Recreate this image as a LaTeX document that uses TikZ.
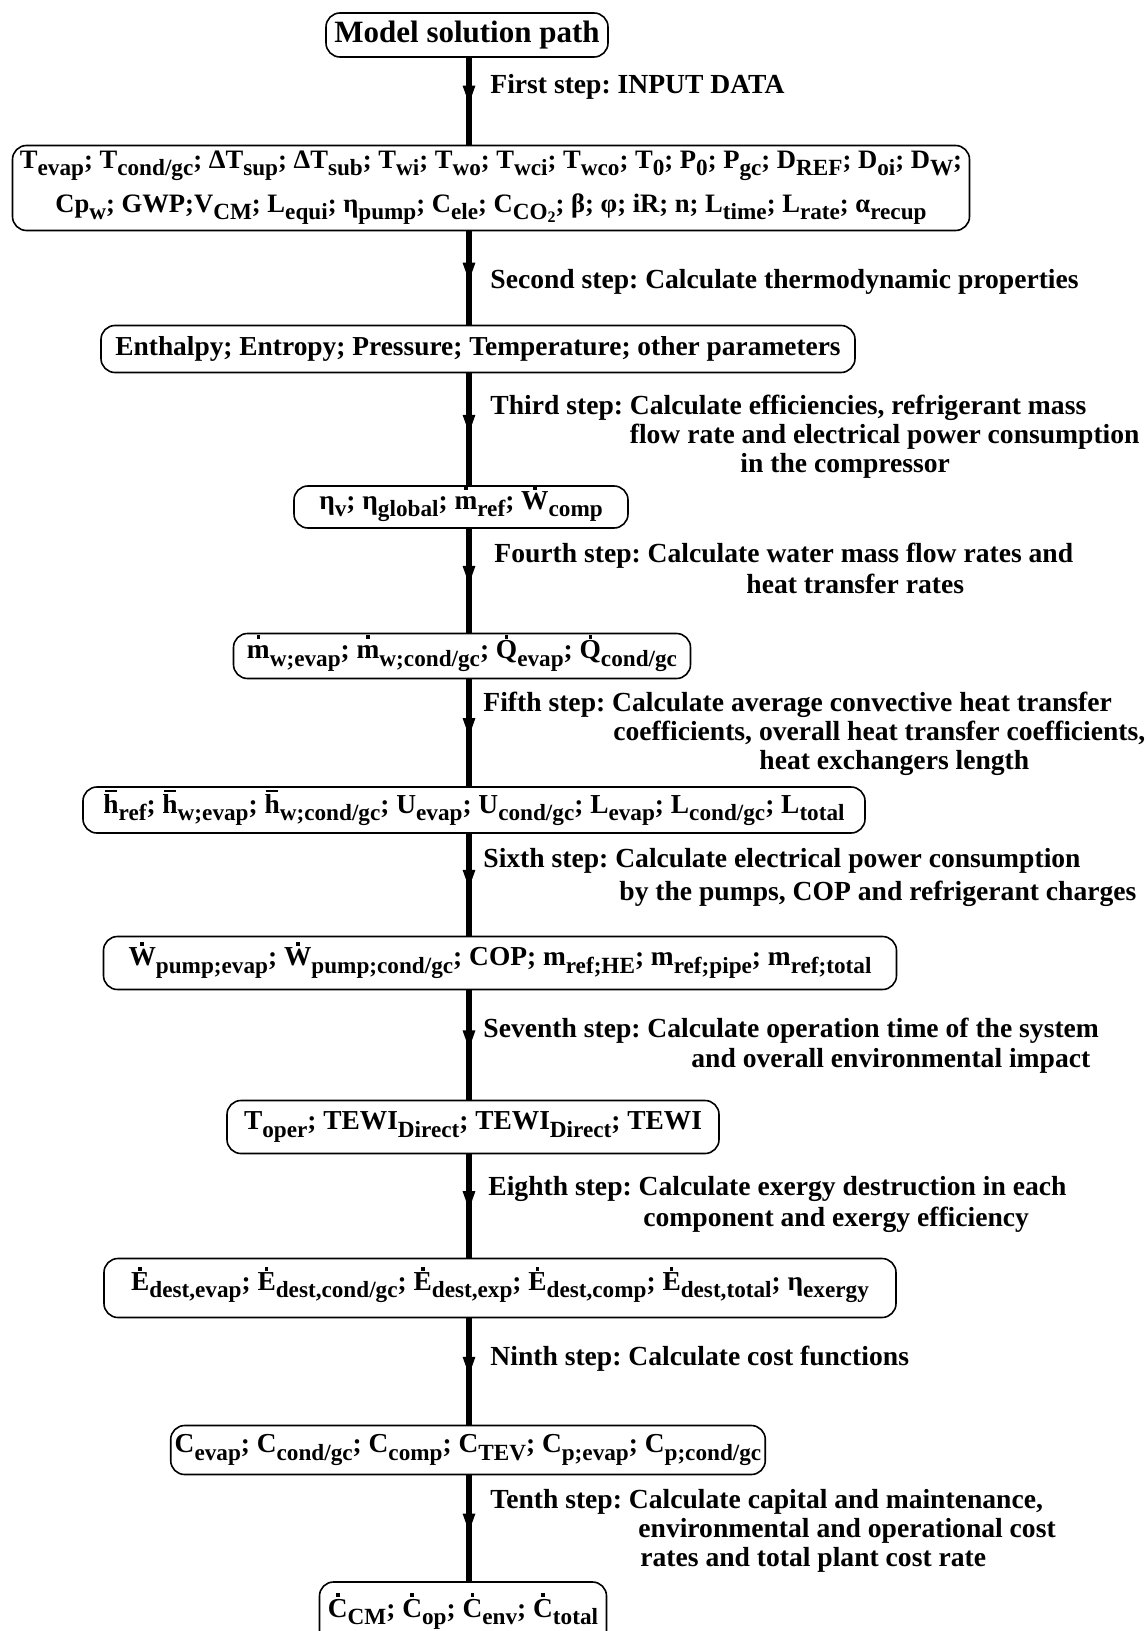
\documentclass[tikz,border=0pt]{standalone}
\usepackage{fontspec}
\setmainfont{Liberation Serif}
\usetikzlibrary{arrows.meta,decorations.markings}

\newcommand{\low}[1]{\raisebox{-0.26em}{\fontsize{11.6}{12}\selectfont #1}}
\newcommand{\dotup}[1]{{\ooalign{#1\cr\hidewidth\raisebox{0.74em}{\rule{0.13em}{0.13em}}\hidewidth\cr}}}
\newcommand{\barup}[1]{{\ooalign{#1\cr\hidewidth\raisebox{0.78em}{\rule{0.42em}{0.07em}}\hidewidth\cr}}}
\frenchspacing

\begin{document}
\begin{tikzpicture}[x=0.5pt,y=-0.5pt,
  box/.style={draw, line width=0.8pt, rounded corners=7pt, inner sep=2pt, align=center,
    font=\bfseries\fontsize{13.7}{16}\selectfont},
  lbl/.style={anchor=north west, align=left, inner sep=0pt,
    font=\bfseries\fontsize{13.8}{14.5}\selectfont},
  flow/.style={line width=3pt, postaction={decorate},
    decoration={markings, mark=at position 0.55 with {\arrow{Triangle[length=10pt,width=5.5pt]}}}}]
\useasboundingbox (0,0) rectangle (1145,1631);

% 主干的位置
\coordinate (spine) at (469,0);

% 各个方框
\node[box, minimum width=141pt, minimum height=22pt, font=\bfseries\fontsize{15.5}{18}\selectfont] (b1) at (467,35) {Model solution path};
\node[box, minimum width=478.5pt, minimum height=42.5pt, font=\bfseries\fontsize{13.3}{16}\selectfont] (b2) at (491,188) {T\low{evap}; T\low{cond/gc}; ΔT\low{sup}; ΔT\low{sub}; T\low{wi}; T\low{wo}; T\low{wci}; T\low{wco}; T\low{0}; P\low{0}; P\low{gc}; D\low{REF}; D\low{oi}; D\low{W};\\[6pt]
  Cp\low{w}; GWP;V\low{CM}; L\low{equi}; η\low{pump}; C\low{ele}; C\low{CO{\fontsize{8}{8}\selectfont\raisebox{-0.2em}{2}}}; β; φ; iR; n; L\low{time}; L\low{rate}; α\low{recup}};
\node[box, minimum width=377pt, minimum height=23.5pt] (b3) at (478,349) {Enthalpy; Entropy; Pressure; Temperature; other parameters};
\node[box, minimum width=167pt, minimum height=21pt] (b4) at (461,507) {η\low{v}; η\low{global}; \dotup{m}\low{ref}; \dotup{W}\low{comp}};
\node[box, minimum width=228.5pt, minimum height=22.5pt] (b5) at (462,656) {\dotup{m}\low{w;evap}; \dotup{m}\low{w;cond/gc}; \dotup{Q}\low{evap}; \dotup{Q}\low{cond/gc}};
\node[box, minimum width=391pt, minimum height=23pt] (b6) at (474,810) {\barup{h}\low{ref}; \barup{h}\low{w;evap}; \barup{h}\low{w;cond/gc}; U\low{evap}; U\low{cond/gc}; L\low{evap}; L\low{cond/gc}; L\low{total}};
\node[box, minimum width=396.5pt, minimum height=26.5pt] (b7) at (500,963) {\dotup{W}\low{pump;evap}; \dotup{W}\low{pump;cond/gc}; COP; m\low{ref;HE}; m\low{ref;pipe}; m\low{ref;total}};
\node[box, minimum width=246pt, minimum height=26.5pt] (b8) at (473,1127) {T\low{oper}; TEWI\low{Direct}; TEWI\low{Direct}; TEWI};
\node[box, minimum width=396pt, minimum height=29.5pt] (b9) at (500,1288) {\dotup{E}\low{dest,evap}; \dotup{E}\low{dest,cond/gc}; \dotup{E}\low{dest,exp}; \dotup{E}\low{dest,comp}; \dotup{E}\low{dest,total}; η\low{exergy}};
\node[box, minimum width=294pt, minimum height=24.5pt] (b10) at (468,1450) {C\low{evap}; C\low{cond/gc}; C\low{comp}; C\low{TEV}; C\low{p;evap}; C\low{p;cond/gc}};
\node[box, minimum width=143.5pt, minimum height=32pt] (b11) at (463,1614) {\dotup{C}\low{CM}; \dotup{C}\low{op}; \dotup{C}\low{env}; \dotup{C}\low{total}};

% 连接箭头
\foreach \i/\j in {1/2, 2/3, 3/4, 4/5, 5/6, 6/7, 7/8, 8/9, 9/10, 10/11} {
    \draw[flow] (b\i.south -| spine) -- (b\j.north -| spine);
}

% 步骤说明
\node[lbl] (s1) at (490,74) {First step: INPUT DATA};
\node[lbl] (s2) at (490,269) {Second step: Calculate thermodynamic properties};
\node[lbl] (s3) at (490,395) {Third step: Calculate efficiencies, refrigerant mass\\\hspace*{69.7pt}flow rate and electrical power consumption\\\hspace*{125pt}in the compressor};
\node[lbl] (s4) at (494,543) {Fourth step: Calculate water mass flow rates and\\[1pt]\hspace*{126pt}heat transfer rates};
\node[lbl] (s5) at (483,692) {Fifth step: Calculate average convective heat transfer\\\hspace*{65pt}coefficients, overall heat transfer coefficients,\\\hspace*{138pt}heat exchangers length};
\node[lbl] (s6) at (483,848) {Sixth step: Calculate electrical power consumption\\[2pt]\hspace*{68pt}by the pumps, COP and refrigerant charges};
\node[lbl] (s7) at (483,1018) {Seventh step: Calculate operation time of the system\\[0.5pt]\hspace*{104pt}and overall environmental impact};
\node[lbl] (s8) at (488,1176) {Eighth step: Calculate exergy destruction in each\\[1pt]\hspace*{77.5pt}component and exergy efficiency};
\node[lbl] (s9) at (490,1346) {Ninth step: Calculate cost functions};
\node[lbl] (s10) at (490,1489) {Tenth step: Calculate capital and maintenance,\\\hspace*{74pt}environmental and operational cost\\\hspace*{75pt}rates and total plant cost rate};

\end{tikzpicture}
\end{document}
